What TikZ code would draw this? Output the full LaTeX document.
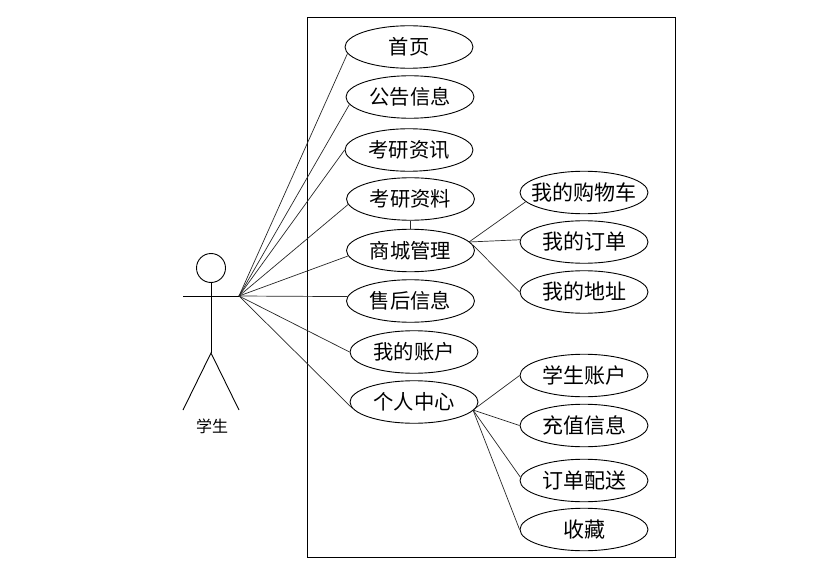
\documentclass[tikz,border=0pt]{standalone}
\usepackage{fontspec}
\setmainfont{Noto Sans CJK SC}
\usetikzlibrary{shapes.geometric}
\tikzset{
  usecase/.style={draw,ellipse,minimum width=128pt,minimum height=42.5pt,inner sep=-20pt,font=\fontsize{20.3}{20}\selectfont},
  subcase/.style={usecase,font=\fontsize{21}{21}\selectfont},
  link/.style={line width=0.7pt,color=black!85},
}

\begin{document}
\begin{tikzpicture}[x=1pt,y=-1pt,line width=0.9pt]
\useasboundingbox (0,0) rectangle (816,572);
% system box
\draw (307,17) rectangle (675,557);
% left column
\node[usecase] (home) at (409,47) {首页};
\node[usecase] (notice) at (410,97) {公告信息};
\node[usecase] (news) at (409,150) {考研资讯};
\node[usecase] (material) at (410.5,199) {考研资料};
\node[usecase] (mall) at (410.5,250.5) {商城管理};
\node[usecase] (aftersale) at (410.5,301) {售后信息};
\node[usecase] (account) at (414,352) {我的账户};
\node[usecase] (center) at (414,402) {个人中心};
% right column
\node[subcase] (cart) at (584,192.5) {我的购物车};
\node[subcase] (order) at (584,242) {我的订单};
\node[subcase] (address) at (584,292) {我的地址};
\node[subcase] (student) at (584,375.5) {学生账户};
\node[subcase] (recharge) at (584,425.5) {充值信息};
\node[subcase] (delivery) at (584,480.5) {订单配送};
\node[subcase] (favorite) at (584,529.5) {收藏};
% actor
\node[draw,circle,minimum size=29pt,inner sep=0pt] (head) at (211,268) {};
\coordinate (hip) at (211,353);
\coordinate (lefthand) at (183,296);
\coordinate (hand) at (239,296);
\coordinate (leftfoot) at (183,410);
\coordinate (rightfoot) at (239,410);
\node[font=\fontsize{16}{16}\selectfont] (actor) at (212,426) {学生};
\draw (head.south) -- (hip);
\draw (lefthand) -- (hand);
\draw (leftfoot) -- (hip) -- (rightfoot);
% actor links
\foreach \Name/\Angle in {home/186,notice/187,news/180,material/185,mall/185,aftersale/176,account/180,center/186}{
    \draw[link] (hand) -- (\Name.\Angle);
}
% includes
\coordinate (mallhub) at (469,242);
\coordinate (centerhub) at (473,410);
\draw[link] (material.south) -- (mall.north);
\draw[link] (mallhub) -- (cart.189);
\draw[link] (mallhub) -- (order.178);
\draw[link] (mall.5) -- (address.180);
\foreach \Name/\Angle in {student/180,recharge/180,delivery/177,favorite/180}{
    \draw[link] (centerhub) -- (\Name.\Angle);
}
\end{tikzpicture}
\end{document}
